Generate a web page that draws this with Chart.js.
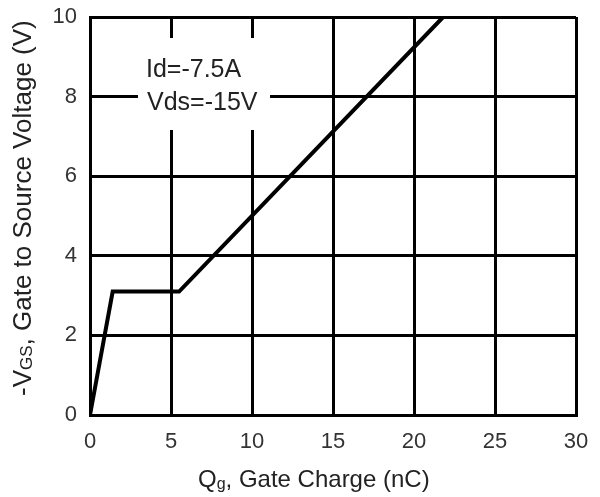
<!DOCTYPE html>
<html>
<head>
<meta charset="utf-8">
<script src="https://cdn.jsdelivr.net/npm/chart.js@4/dist/chart.umd.min.js"></script>
<style>
  html, body { margin: 0; padding: 0; background: #fff; }
  #wrap { width: 600px; height: 497px; }
</style>
</head>
<body>
<div id="wrap"><canvas id="c" width="600" height="497"></canvas></div>
<script>
// Gate charge curve (Qg in nC, -VGS in V)
const gateCharge = [0, 1.4, 5.5, 21.8];
const gateVoltage = [0, 3.1, 3.1, 10];
const xTickValues = [0, 5, 10, 15, 20, 25, 30];
const yTickValues = [0, 2, 4, 6, 8, 10];
const annotationLines = ['Id=-7.5A', 'Vds=-15V'];

const FONT = '"Liberation Sans", Arial, Helvetica, sans-serif';

const points = gateCharge.map((q, i) => ({ x: q, y: gateVoltage[i] }));

const decor = {
  id: 'decor',
  beforeDatasetsDraw(chart) {
    const ctx = chart.ctx;
    ctx.save();
    // annotation with white background covering grid
    ctx.fillStyle = '#fff';
    ctx.fillRect(138, 38, 132, 92);
    ctx.fillStyle = '#222';
    ctx.font = '25px ' + FONT;
    ctx.textAlign = 'left';
    ctx.textBaseline = 'alphabetic';
    ctx.fillText(annotationLines[0], 146, 77);
    ctx.fillText(annotationLines[1], 147, 110);
    ctx.restore();
  },
  afterDraw(chart) {
    const ctx = chart.ctx;
    ctx.save();
    ctx.fillStyle = '#222';
    ctx.textAlign = 'left';
    ctx.textBaseline = 'alphabetic';
    // X title: Q_g, Gate Charge (nC)
    let x = 198, y = 487;
    ctx.font = '24px ' + FONT;
    ctx.fillText('Q', x, y); x += ctx.measureText('Q').width;
    ctx.font = '16px ' + FONT;
    ctx.fillText('g', x, y + 2); x += ctx.measureText('g').width;
    ctx.font = '24px ' + FONT;
    ctx.fillText(', Gate Charge (nC)', x, y);
    // Y title: -V_GS, Gate to Source Voltage (V)
    ctx.translate(31, 396);
    ctx.rotate(-Math.PI / 2);
    let t = 0;
    ctx.font = '26px ' + FONT;
    ctx.fillText('-V', t, 0); t += ctx.measureText('-V').width;
    ctx.font = '17px ' + FONT;
    ctx.fillText('GS', t, 1); t += ctx.measureText('GS').width;
    ctx.font = '26px ' + FONT;
    ctx.fillText(', Gate to Source Voltage (V)', t, 0);
    ctx.restore();
  }
};

new Chart(document.getElementById('c'), {
  type: 'scatter',
  data: {
    datasets: [{
      data: points,
      showLine: true,
      borderColor: '#000',
      borderWidth: 4,
      pointRadius: 0,
      tension: 0,
      fill: false
    }]
  },
  options: {
    responsive: false,
    animation: false,
    devicePixelRatio: 1,
    layout: { padding: { left: 0, right: 24, top: 17, bottom: 0 } },
    plugins: { legend: { display: false }, tooltip: { enabled: false } },
    scales: {
      x: {
        type: 'linear',
        min: 0, max: 30,
        afterBuildTicks(axis) { axis.ticks = xTickValues.map(v => ({ value: v })); },
        afterFit(axis) { axis.height = 82; axis.paddingLeft = 0; axis.paddingRight = 0; },
        grid: { color: '#000', lineWidth: 3, drawTicks: false },
        border: { display: true, color: '#000', width: 3 },
        ticks: { color: '#333', font: { family: FONT, size: 22 }, padding: 14, maxRotation: 0 }
      },
      y: {
        type: 'linear',
        min: 0, max: 10,
        afterBuildTicks(axis) { axis.ticks = yTickValues.map(v => ({ value: v })); },
        afterFit(axis) { axis.width = 90; axis.paddingTop = 0; axis.paddingBottom = 0; },
        grid: { color: '#000', lineWidth: 3, drawTicks: false },
        border: { display: true, color: '#000', width: 3 },
        ticks: { color: '#333', font: { family: FONT, size: 22 }, padding: 13 }
      }
    }
  },
  plugins: [decor]
});
</script>
</body>
</html>
